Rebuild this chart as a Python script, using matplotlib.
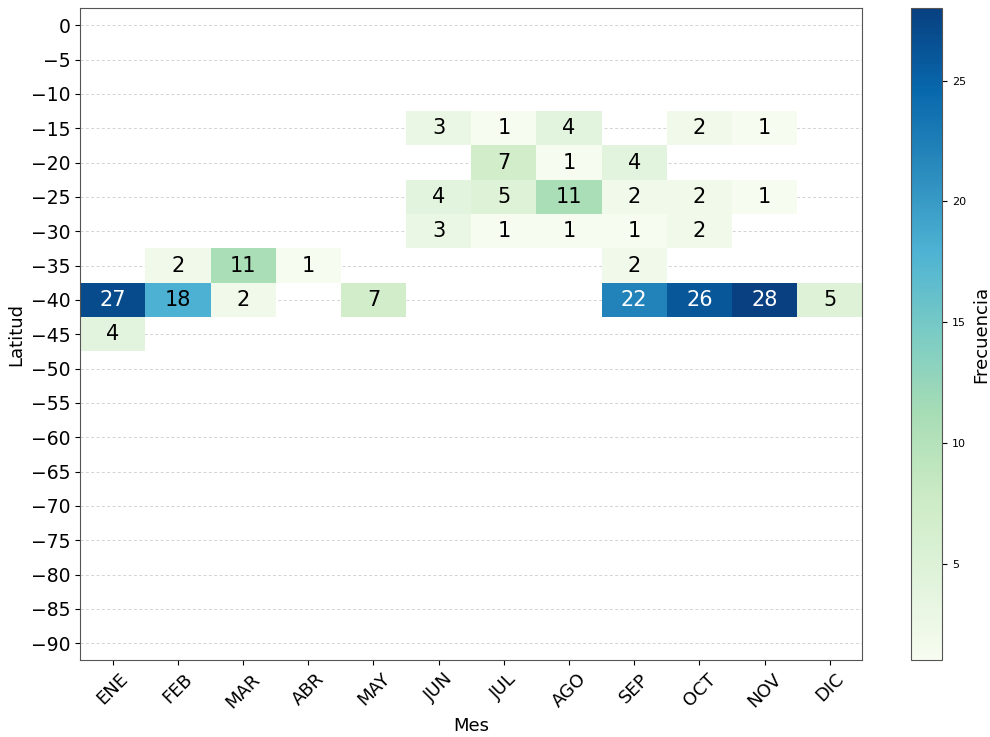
import matplotlib
matplotlib.use("Agg")
import matplotlib.pyplot as plt
import numpy as np

meses = ["ENE", "FEB", "MAR", "ABR", "MAY", "JUN", "JUL", "AGO", "SEP", "OCT", "NOV", "DIC"]
latitudes = list(range(0, -95, -5))

# conteos por franja de latitud (ENE..DIC); las franjas sin registros quedan en cero
lat_15 = [0, 0, 0, 0, 0, 3, 1, 4, 0, 2, 1, 0]
lat_20 = [0, 0, 0, 0, 0, 0, 7, 1, 4, 0, 0, 0]
lat_25 = [0, 0, 0, 0, 0, 4, 5, 11, 2, 2, 1, 0]
lat_30 = [0, 0, 0, 0, 0, 3, 1, 1, 1, 2, 0, 0]
lat_35 = [0, 2, 11, 1, 0, 0, 0, 0, 2, 0, 0, 0]
lat_40 = [27, 18, 2, 0, 7, 0, 0, 0, 22, 26, 28, 5]
lat_45 = [4, 0, 0, 0, 0, 0, 0, 0, 0, 0, 0, 0]

filas = {-15: lat_15, -20: lat_20, -25: lat_25, -30: lat_30,
         -35: lat_35, -40: lat_40, -45: lat_45}

conteo = np.zeros((len(latitudes), len(meses)))
for lat, fila in filas.items():
    conteo[latitudes.index(lat)] = fila
datos = np.ma.masked_equal(conteo, 0)

fig = plt.figure(figsize=(9.9, 7.37), dpi=100)
ax = fig.add_axes([0.081, 0.104, 0.790, 0.885])
cax = fig.add_axes([0.920, 0.104, 0.032, 0.885])

x_bordes = np.arange(len(meses) + 1) - 0.5
y_bordes = np.array(latitudes + [latitudes[-1] - 5]) + 2.5
mesh = ax.pcolormesh(x_bordes, y_bordes, datos, cmap="GnBu", vmin=1, vmax=28, zorder=2)

for i, lat in enumerate(latitudes):
    for j in range(len(meses)):
        v = conteo[i, j]
        if v > 0:
            ax.text(j, lat, f"{int(v)}", ha="center", va="center", fontsize=15,
                    color="white" if v > 20 else "black", zorder=3)

ax.set_xlim(-0.5, len(meses) - 0.5)
ax.set_ylim(latitudes[-1] - 2.5, latitudes[0] + 2.5)
ax.set_xticks(range(len(meses)))
ax.set_xticklabels(meses, rotation=45, fontsize=13)
ax.set_yticks(latitudes)
ax.tick_params(axis="y", labelsize=13.5)
ax.set_axisbelow(True)
ax.grid(axis="y", linestyle=(0, (3, 2.5)), color="#c8c8c8", linewidth=0.7, alpha=0.8)
ax.set_xlabel("Mes", fontsize=13)
ax.set_ylabel("Latitud", fontsize=13)
for s in ax.spines.values():
    s.set_color("#555555")

cb = fig.colorbar(mesh, cax=cax)
cb.set_ticks([5, 10, 15, 20, 25])
cb.ax.tick_params(labelsize=8)
cb.set_label("Frecuencia", fontsize=13)
cb.outline.set_edgecolor("#555555")

fig.savefig("out.png", dpi=100)
